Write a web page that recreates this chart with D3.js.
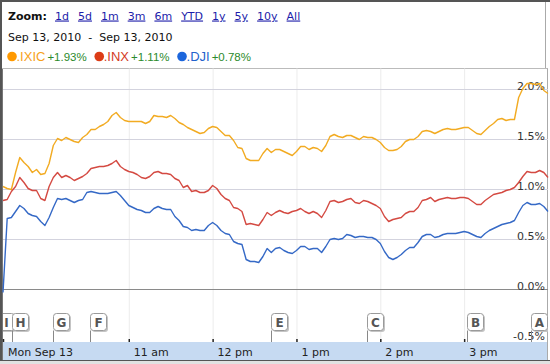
<!DOCTYPE html>
<html>
<head>
<meta charset="utf-8">
<script src="https://cdn.jsdelivr.net/npm/d3@7"></script>
<style>
body{margin:0;background:#fff}
svg{display:block;font-family:"DejaVu Sans",Verdana,sans-serif}
</style>
</head>
<body>
<svg></svg>
<script>
var zoomLinks=["1d","5d","1m","3m","6m","YTD","1y","5y","10y","All"]
var dateRange="Sep 13, 2010  -  Sep 13, 2010"
var tickers=[".IXIC",".INX",".DJI"]
var changes=["+1.93%","+1.11%","+0.78%"]
var hourTicks=[0,90,150,210,270,330]          // minutes after 9:30
var hourLabels=["Mon Sep 13","11 am","12 pm","1 pm","2 pm","3 pm"]
var pctTicks=[-0.5,0,0.5,1,1.5,2]
var flagLetters=["I","H","G","F","E","C","B","A"]
var flagTimes=[-3.5,6.5,36,62.5,192,260.5,332,378]

// one reading every 3 minutes from 9:30 to 16:00
var times=d3.range(0,391,3)

var ixic=[
 1.02,1.00,0.99,1.16,1.31,1.26,1.22,1.16,1.19,1.14,
 1.15,1.25,1.43,1.50,1.48,1.51,1.49,1.47,1.46,1.51,
 1.54,1.59,1.59,1.62,1.64,1.67,1.73,1.76,1.71,1.68,
 1.67,1.67,1.67,1.67,1.65,1.67,1.73,1.72,1.72,1.71,
 1.73,1.70,1.66,1.64,1.61,1.59,1.57,1.55,1.56,1.60,
 1.62,1.61,1.57,1.53,1.53,1.48,1.41,1.40,1.30,1.28,
 1.28,1.28,1.35,1.40,1.36,1.39,1.39,1.37,1.35,1.33,
 1.37,1.42,1.42,1.39,1.41,1.40,1.37,1.43,1.52,1.54,
 1.52,1.51,1.53,1.53,1.51,1.49,1.52,1.51,1.51,1.49,
 1.46,1.41,1.38,1.38,1.39,1.42,1.47,1.49,1.49,1.52,
 1.57,1.58,1.57,1.55,1.57,1.59,1.60,1.59,1.59,1.60,
 1.61,1.61,1.58,1.55,1.54,1.58,1.62,1.65,1.69,1.70,
 1.68,1.69,1.69,1.91,2.00,2.05,2.05,2.04,2.05,1.98,
 1.95]
var inx=[
 0.88,0.89,0.97,1.02,1.11,1.06,1.00,0.98,0.98,0.90,
 0.88,1.02,1.11,1.16,1.11,1.13,1.11,1.08,1.10,1.12,
 1.15,1.20,1.21,1.22,1.22,1.23,1.25,1.28,1.22,1.19,
 1.17,1.16,1.14,1.11,1.10,1.12,1.16,1.17,1.15,1.15,
 1.14,1.10,1.08,1.01,1.03,0.97,0.98,0.96,0.96,0.98,
 1.03,1.00,0.94,0.90,0.88,0.81,0.80,0.77,0.64,0.65,
 0.64,0.63,0.69,0.76,0.73,0.76,0.78,0.76,0.75,0.77,
 0.78,0.80,0.77,0.75,0.77,0.75,0.71,0.78,0.87,0.88,
 0.86,0.87,0.89,0.90,0.86,0.85,0.88,0.87,0.85,0.83,
 0.80,0.72,0.67,0.69,0.70,0.71,0.75,0.77,0.77,0.81,
 0.88,0.89,0.91,0.87,0.89,0.90,0.91,0.90,0.90,0.91,
 0.91,0.90,0.87,0.84,0.84,0.88,0.91,0.94,0.95,0.96,
 0.98,0.99,1.01,1.06,1.12,1.17,1.16,1.16,1.18,1.16,
 1.11]
var dji=[
 -0.04,0.70,0.71,0.77,0.83,0.80,0.75,0.73,0.72,0.67,
 0.63,0.71,0.81,0.90,0.89,0.90,0.88,0.86,0.88,0.89,
 0.96,0.97,0.96,0.95,0.95,0.95,0.96,0.97,0.93,0.88,
 0.83,0.81,0.79,0.78,0.76,0.76,0.80,0.82,0.80,0.79,
 0.79,0.72,0.68,0.62,0.61,0.58,0.59,0.58,0.58,0.63,
 0.66,0.63,0.58,0.55,0.54,0.47,0.45,0.44,0.29,0.27,
 0.27,0.26,0.32,0.40,0.36,0.40,0.41,0.38,0.36,0.35,
 0.38,0.42,0.42,0.39,0.40,0.40,0.36,0.42,0.49,0.50,
 0.49,0.50,0.54,0.53,0.51,0.52,0.52,0.51,0.51,0.49,
 0.45,0.37,0.31,0.29,0.31,0.34,0.38,0.41,0.41,0.46,
 0.52,0.54,0.54,0.51,0.52,0.54,0.55,0.55,0.55,0.56,
 0.57,0.56,0.54,0.52,0.51,0.55,0.58,0.60,0.62,0.64,
 0.65,0.66,0.68,0.76,0.83,0.86,0.84,0.84,0.85,0.82,
 0.77]

var series=[ixic,inx,dji]
var lineColors=["#f2ab22","#d44a42","#3569c6"]
var dotColors=["#ff9900","#dc3c16","#1c66dc"]
var tickerColors=["#f7a11a","#d43a1e","#2262cc"]

var W=550,H=364
var plotTop=68.5, barTop=342, barBottom=360
var svg=d3.select("svg").attr("width",W).attr("height",H)

var x=d3.scaleLinear().domain([0,390]).range([3,548])
var y=d3.scaleLinear().domain([-0.5,2]).range([338.5,88.5])

svg.append("clipPath").attr("id","plotclip").append("rect")
  .attr("x",3).attr("y",plotTop).attr("width",545).attr("height",barTop-plotTop)

// header
svg.append("text").text("Zoom:").attr("x",8).attr("y",19.5)
  .style("font-size","11px").style("font-weight","bold").attr("fill","#111")
var links=svg.append("text").attr("x",55).attr("y",19.5).style("font-size","11px")
links.selectAll("tspan").data(zoomLinks).enter().append("tspan")
  .attr("dx",(d,i)=>i?9:0).text(d=>d)
  .attr("fill","#1d1daa").style("text-decoration","underline")

svg.append("text").text(dateRange).attr("x",8).attr("y",41)
  .style("font-size","11px").attr("fill","#111").style("white-space","pre")

// legend
var lx=12
tickers.forEach((t,i)=>{
  svg.append("circle").attr("cx",lx).attr("cy",56.5).attr("r",4.8).attr("fill",dotColors[i])
  var tt=svg.append("text").text(t).attr("x",lx+4.5).attr("y",61)
    .style("font-family","'Liberation Sans',Arial,sans-serif").style("font-size","13px")
    .attr("fill",tickerColors[i])
  var tx=lx+4.5+tt.node().getComputedTextLength()+2
  var ct=svg.append("text").text(changes[i]).attr("x",tx).attr("y",61)
    .style("font-family","'Liberation Sans',Arial,sans-serif").style("font-size","11.5px")
    .attr("fill","#2b8a2b")
  lx=tx+ct.node().getComputedTextLength()+12.5
})

// frame
svg.append("line").attr("x1",0).attr("x2",W).attr("y1",1).attr("y2",1).attr("stroke","#555").attr("stroke-width",2)
svg.append("line").attr("x1",1).attr("x2",1).attr("y1",0).attr("y2",H).attr("stroke","#555").attr("stroke-width",2)
svg.append("line").attr("x1",545.5).attr("x2",545.5).attr("y1",2).attr("y2",plotTop).attr("stroke","#aaa")
svg.append("line").attr("x1",3).attr("x2",548).attr("y1",plotTop).attr("y2",plotTop).attr("stroke","#bbb")
svg.append("line").attr("x1",547.5).attr("x2",547.5).attr("y1",plotTop).attr("y2",barBottom).attr("stroke","#aaa")
svg.append("line").attr("x1",2.5).attr("x2",2.5).attr("y1",plotTop).attr("y2",barBottom).attr("stroke","#777")

// vertical grid at hours
svg.append("g").selectAll("line").data(hourTicks.slice(1)).enter().append("line")
  .attr("x1",d=>x(d)+0.5).attr("x2",d=>x(d)+0.5).attr("y1",plotTop).attr("y2",barTop)
  .attr("stroke","#ececec")

// horizontal grid
svg.append("g").selectAll("line").data(pctTicks.slice(1)).enter().append("line")
  .attr("x1",3).attr("x2",548).attr("y1",d=>Math.round(y(d))+0.5).attr("y2",d=>Math.round(y(d))+0.5)
  .attr("stroke",d=>d==0?"#8a8a8a":"#d3d3de")

// y labels
var yAxis=svg.append("g").attr("transform","translate(545,0)")
  .call(d3.axisLeft(y).tickValues(pctTicks).tickSize(0).tickPadding(0)
    .tickFormat(d=>d.toFixed(1)+"%"))
yAxis.select(".domain").remove()
yAxis.selectAll("text").attr("dy",0).attr("y",0.5).attr("fill","#333")
  .style("font-size","11px").style("font-family","'DejaVu Sans',Verdana,sans-serif")

// flags
var fw=16, fh=17, fTop=313.5
var flags=svg.append("g").attr("clip-path","url(#plotclip)")
  .selectAll("g").data(flagLetters).enter().append("g")
  .attr("transform",(d,i)=>"translate("+Math.round(x(flagTimes[i]))+",0)")
flags.append("line").attr("x1",0.5).attr("x2",0.5).attr("y1",fTop+fh).attr("y2",barTop).attr("stroke","#888")
flags.append("rect").attr("x",2).attr("y",fTop+1.5).attr("width",fw).attr("height",fh).attr("rx",3).attr("fill","#c4c4c4")
flags.append("rect").attr("x",0.5).attr("y",fTop).attr("width",fw).attr("height",fh).attr("rx",3)
  .attr("fill","#fff").attr("stroke","#9a9a9a")
flags.append("text").text(d=>d).attr("x",fw/2+0.5).attr("y",fTop+13).attr("text-anchor","middle")
  .style("font-size","12px").style("font-weight","bold").attr("fill","#555")

// series lines
var line=d3.line().x((d,i)=>x(times[i])).y(d=>y(d))
svg.append("g").selectAll("path").data(series).enter().append("path")
  .attr("d",line).attr("fill","none").attr("stroke",(d,i)=>lineColors[i])
  .attr("stroke-width",1.4).attr("stroke-linejoin","round")

// time bar
svg.append("rect").attr("x",3).attr("y",barTop).attr("width",544).attr("height",barBottom-barTop).attr("fill","#c6daf2")
svg.append("line").attr("x1",0).attr("x2",W).attr("y1",barBottom+0.5).attr("y2",barBottom+0.5).attr("stroke","#555")
svg.append("rect").attr("x",0).attr("y",barBottom+1).attr("width",W).attr("height",H-barBottom-1).attr("fill","#e2e2e2")

var ticks=svg.append("g").attr("transform","translate(0,"+barTop+")")
  .call(d3.axisTop(x).tickValues(hourTicks).tickSize(3).tickFormat(""))
ticks.select(".domain").remove()
ticks.selectAll("line").attr("stroke","#222").attr("stroke-width",1.5)

var xAxis=svg.append("g").attr("transform","translate(0,"+barTop+")")
  .call(d3.axisBottom(x).tickValues(hourTicks).tickSize(0).tickFormat((d,i)=>hourLabels[i]))
xAxis.select(".domain").remove()
xAxis.selectAll("text").attr("text-anchor","start").attr("x",4.5).attr("y",14).attr("dy",0)
  .attr("fill","#222").style("font-size","11px").style("font-family","'DejaVu Sans',Verdana,sans-serif")
</script>
</body>
</html>
